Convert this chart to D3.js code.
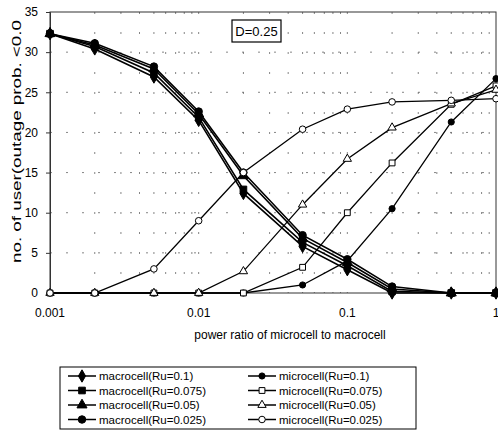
<!DOCTYPE html>
<html>
<head>
<meta charset="utf-8">
<script src="https://cdn.jsdelivr.net/npm/d3@7"></script>
<style>
  html, body { margin: 0; padding: 0; background: #fff; }
  svg { display: block; font-family: "Liberation Sans", Arial, sans-serif; }
</style>
</head>
<body>
<svg id="chart" width="498" height="432"></svg>
<script>
// power ratio of microcell to macrocell (x)
const powerRatio = [0.001, 0.002, 0.005, 0.01, 0.02, 0.05, 0.1, 0.2, 0.5, 1];

// macrocell series
const macroRu01 = [32.3, 30.4, 26.9, 21.5, 12.4, 5.8, 2.9, 0, 0, 0];
const macroRu0075 = [32.3, 30.7, 27.4, 21.9, 12.9, 6.3, 3.4, 0.2, 0, 0];
const macroRu005 = [32.3, 30.9, 27.9, 22.3, 14.6, 6.8, 3.8, 0.5, 0, 0];
const macroRu0025 = [32.3, 31.1, 28.2, 22.6, 15.0, 7.2, 4.2, 0.8, 0, 0];

// microcell series
const microRu01 = [0, 0, 0, 0, 0, 1.0, 4.0, 10.5, 21.3, 26.7];
const microRu0075 = [0, 0, 0, 0, 0, 3.2, 10.0, 16.2, 23.5, 25.8];
const microRu005 = [0, 0, 0, 0, 2.7, 11.0, 16.7, 20.6, 23.6, 25.3];
const microRu0025 = [0, 0, 3.0, 9.0, 15.0, 20.4, 22.9, 23.8, 24.0, 24.2];

const xTicks = [0.001, 0.01, 0.1, 1];
const xTickLabels = ['0.001', '0.01', '0.1', '1'];
const yTicks = [0, 5, 10, 15, 20, 25, 30, 35];

(function () {
  const series = [
    { name: 'macrocell(Ru=0.1)', values: macroRu01, symbol: d3.symbolDiamond, size: 44, fill: '#000' },
    { name: 'macrocell(Ru=0.075)', values: macroRu0075, symbol: d3.symbolSquare, size: 44, fill: '#000' },
    { name: 'macrocell(Ru=0.05)', values: macroRu005, symbol: d3.symbolTriangle, size: 44, fill: '#000' },
    { name: 'macrocell(Ru=0.025)', values: macroRu0025, symbol: d3.symbolCircle, size: 44, fill: '#000' },
    { name: 'microcell(Ru=0.1)', values: microRu01, symbol: d3.symbolCircle, size: 30, fill: '#000' },
    { name: 'microcell(Ru=0.075)', values: microRu0075, symbol: d3.symbolSquare, size: 34, fill: '#fff' },
    { name: 'microcell(Ru=0.05)', values: microRu005, symbol: d3.symbolTriangle, size: 30, fill: '#fff' },
    { name: 'microcell(Ru=0.025)', values: microRu0025, symbol: d3.symbolCircle, size: 34, fill: '#fff' }
  ];

  const svg = d3.select('#chart');
  const plotLeft = 50, plotRight = 496, plotTop = 12, plotBottom = 293;

  const x = d3.scaleLog().domain([0.001, 1]).range([plotLeft, plotRight]);
  const y = d3.scaleLinear().domain([0, 35]).range([plotBottom, plotTop]);

  // grid
  const minor = [];
  [0.001, 0.01, 0.1].forEach((d) => {
    for (let k = 2; k <= 10; k++) minor.push(d * k);
  });
  svg.append('g')
    .selectAll('line')
    .data(minor.filter((v) => v < 0.99))
    .join('line')
    .attr('x1', (d) => x(d)).attr('x2', (d) => x(d))
    .attr('y1', plotTop).attr('y2', plotBottom)
    .attr('stroke', '#666').attr('stroke-width', 0.8)
    .attr('stroke-dasharray', '2,18');

  svg.append('g')
    .selectAll('line')
    .data(yTicks.filter((v) => v > 0 && v < 35))
    .join('line')
    .attr('x1', plotLeft).attr('x2', plotRight)
    .attr('y1', (d) => y(d)).attr('y2', (d) => y(d))
    .attr('stroke', '#666').attr('stroke-width', 0.8)
    .attr('stroke-dasharray', '2,14');

  // frame
  svg.append('rect')
    .attr('x', plotLeft).attr('y', plotTop)
    .attr('width', plotRight - plotLeft).attr('height', plotBottom - plotTop)
    .attr('fill', 'none').attr('stroke', '#333').attr('stroke-width', 1);

  // y axis
  const yAxis = svg.append('g')
    .attr('transform', `translate(${plotLeft},0)`)
    .call(d3.axisLeft(y).tickValues(yTicks).tickSize(4).tickPadding(8));
  yAxis.select('.domain').attr('stroke', '#333');
  yAxis.selectAll('.tick line').attr('stroke', '#333');
  yAxis.selectAll('text').attr('font-size', 12).attr('fill', '#000')
    .attr('font-family', '"Liberation Sans", Arial, sans-serif');

  // x axis labels
  svg.append('g')
    .selectAll('text')
    .data(xTicks)
    .join('text')
    .attr('x', (d) => x(d))
    .attr('y', 317)
    .attr('text-anchor', 'middle')
    .attr('font-size', 12)
    .text((d, i) => xTickLabels[i]);

  svg.append('text')
    .attr('x', 290)
    .attr('y', 339)
    .attr('text-anchor', 'middle')
    .attr('font-size', 12)
    .text('power ratio of microcell to macrocell');

  svg.append('text')
    .attr('transform', 'translate(21,263) rotate(-90)')
    .attr('text-anchor', 'start')
    .attr('font-size', 13)
    .attr('textLength', 243)
    .attr('lengthAdjust', 'spacingAndGlyphs')
    .text('no. of user(outage prob. <0.0');

  // lines
  const line = d3.line()
    .x((d, i) => x(powerRatio[i]))
    .y((d) => y(d));

  const seriesG = svg.append('g')
    .selectAll('g')
    .data(series)
    .join('g');

  seriesG.append('path')
    .attr('d', (d) => line(d.values))
    .attr('fill', 'none')
    .attr('stroke', '#000')
    .attr('stroke-width', (d, i) => (i < 4 ? 1.6 : 1.3));

  seriesG.selectAll('path.pt')
    .data((d) => d.values.map((v, i) => ({ v, i, s: d })))
    .join('path')
    .attr('class', 'pt')
    .attr('transform', (d) => `translate(${x(powerRatio[d.i])},${y(d.v)})`)
    .attr('d', (d) => d3.symbol().type(d.s.symbol).size(d.s.size)())
    .attr('fill', (d) => d.s.fill)
    .attr('stroke', '#000')
    .attr('stroke-width', 1);

  // D label
  const dBox = svg.append('g').attr('transform', 'translate(232,20)');
  dBox.append('rect').attr('width', 49).attr('height', 22)
    .attr('fill', '#fff').attr('stroke', '#000').attr('stroke-width', 1.2);
  dBox.append('text').attr('x', 24.5).attr('y', 15.5).attr('text-anchor', 'middle')
    .attr('font-size', 13).text('D=0.25');

  // legend
  const legend = svg.append('g');
  legend.append('rect')
    .attr('x', 60).attr('y', 367).attr('width', 356).attr('height', 62)
    .attr('fill', '#fff').attr('stroke', '#000').attr('stroke-width', 1);

  const legendItems = legend.selectAll('g')
    .data(series)
    .join('g')
    .attr('transform', (d, i) => {
      const col = i < 4 ? 0 : 1;
      const row = i % 4;
      return `translate(${col === 0 ? 68 : 248},${376 + row * 14.5})`;
    });

  legendItems.append('line')
    .attr('x1', 0).attr('x2', 28).attr('y1', 0).attr('y2', 0)
    .attr('stroke', '#000').attr('stroke-width', 1.5);
  legendItems.append('path')
    .attr('transform', 'translate(14,0)')
    .attr('d', (d) => d3.symbol().type(d.symbol).size(d.size)())
    .attr('fill', (d) => d.fill)
    .attr('stroke', '#000').attr('stroke-width', 1);
  legendItems.append('text')
    .attr('x', 31).attr('y', 4)
    .attr('font-size', 11.5)
    .text((d) => d.name);
})();
</script>
</body>
</html>
